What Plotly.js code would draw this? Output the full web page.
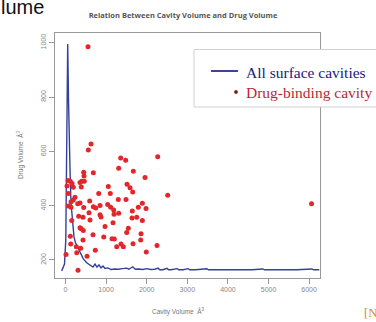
<!DOCTYPE html>
<html>
<head>
<meta charset="utf-8">
<script src="https://cdn.plot.ly/plotly-3.0.1.min.js"></script>
<style>html,body{margin:0;padding:0;background:#fff;}#chart{width:376px;height:322px;}</style>
</head>
<body>
<div id="chart"></div>
<script>
// Drug-binding cavity points (cavity volume, drug volume)
const cavityVolume = [554,6060,628,562,1359,1482,2271,1310,1670,448,685,456,1958,62,118,399,463,357,160,1515,37,192,389,1589,1054,818,1103,1655,69,2517,234,192,135,1300,1490,596,357,300,1892,69,135,448,685,744,850,1039,1113,1793,1983,1187,1645,579,850,1195,1310,325,431,153,603,874,1638,1753,1892,1170,973,1547,357,389,438,1507,677,118,941,1145,1202,1852,431,1860,128,1663,1367,1261,1424,2254,266,374,734,1990,276,12,530,308];
const drugVolume   = [985,407,627,605,576,567,580,538,527,523,521,509,504,493,490,490,490,485,482,479,472,468,469,466,471,445,445,450,445,438,431,421,414,423,423,417,410,407,409,399,394,393,396,391,401,404,394,394,390,384,380,374,367,368,372,361,357,345,347,358,355,357,345,337,323,317,319,315,309,301,293,287,285,278,277,274,274,297,259,260,259,249,249,253,249,243,236,229,227,220,214,162];
// All surface cavities curve
const curveX = [-94,-54,-25,7,25,44,54,74,94,111,135,172,209,246,291,357,438,530,603,677,726,776,825,874,923,973,1047,1121,1219,1300,1400,1507,1560,1655,1720,1800,1900,2000,2100,2200,2280,2320,2400,2500,2540,2600,2750,2790,2900,3020,3060,3200,3480,3520,3800,4200,4600,4860,4900,5300,5700,6070,6110,6250];
const curveY = [160,174,185,274,605,936,995,789,605,531,410,329,285,263,248,226,204,189,182,174,185,174,182,171,178,169,171,165,167,166,168,170,166,175,166,167,165,168,165,166,170,164,164,169,164,164,168,164,164,168,164,164,168,164,164,164,164,167,164,164,164,167,164,164];
const xTicks = [0,1000,2000,3000,4000,5000,6000];
const yTicks = [200,400,600,800,1000];
const legendLabels = ["All surface cavities","Drug-binding cavity"];

const W = 376, H = 322, L = 55, R = 320, T = 33, B = 278;
const px = v => (v - L) / (R - L);
const py = v => (B - v) / (B - T);

const traces = [
  {x: curveX, y: curveY, type: 'scatter', mode: 'lines',
   line: {color: '#34409c', width: 1.4}, hoverinfo: 'skip', showlegend: false},
  {x: cavityVolume, y: drugVolume, type: 'scatter', mode: 'markers',
   marker: {color: '#e2262b', size: 5}, showlegend: false}
];

const axisFont = {family: 'Liberation Sans, Arial, sans-serif', size: 7, color: '#888'};
const layout = {
  width: W, height: H,
  margin: {l: L, r: W - R, t: T, b: H - B, pad: 0},
  paper_bgcolor: '#fff', plot_bgcolor: '#fff',
  showlegend: false,
  title: {text: '<b>Relation Between Cavity Volume and Drug Volume</b>',
          font: {family: 'Open Sans, sans-serif', size: 7.5, color: '#555'},
          x: 183 / W, xanchor: 'center', y: 1 - 15 / H, yanchor: 'middle'},
  xaxis: {range: [-259, 6268], tickvals: xTicks, ticktext: xTicks.map(String),
          ticks: 'outside', ticklen: 5, tickcolor: '#999', tickfont: axisFont,
          showgrid: false, zeroline: false, showline: true, mirror: true,
          linecolor: '#999', linewidth: 1},
  yaxis: {range: [133.7, 1035.8], tickvals: yTicks, ticktext: yTicks.map(String),
          ticks: 'outside', ticklen: 5, tickcolor: '#999', tickfont: axisFont, tickangle: -90,
          showgrid: false, zeroline: false, showline: true, mirror: true,
          linecolor: '#999', linewidth: 1},
  shapes: [
    {type: 'rect', xref: 'paper', yref: 'paper', x0: px(194), x1: px(390), y0: py(107), y1: py(49.5),
     line: {color: '#d0d0d0', width: 1}, fillcolor: '#fff', layer: 'above'},
    {type: 'line', xref: 'paper', yref: 'paper', x0: px(211), x1: px(238), y0: py(71), y1: py(71),
     line: {color: '#14147a', width: 1.6}},
    {type: 'circle', xref: 'paper', yref: 'paper', x0: px(234.3), x1: px(237.7), y0: py(93.7), y1: py(90.3),
     line: {color: '#8c1a1f', width: 0.5}, fillcolor: '#8c1a1f'}
  ],
  annotations: [
    {text: legendLabels[0], xref: 'paper', yref: 'paper', x: px(243.5), y: py(72), xanchor: 'left', yanchor: 'middle',
     showarrow: false, font: {family: 'Liberation Serif, Times New Roman, serif', size: 15.5, color: '#1a1a80'}},
    {text: legendLabels[1], xref: 'paper', yref: 'paper', x: px(243.5), y: py(92.5), xanchor: 'left', yanchor: 'middle',
     showarrow: false, font: {family: 'Liberation Serif, Times New Roman, serif', size: 15.5, color: '#c01f36'}},
    {text: 'Cavity Volume  Å<sup>3</sup>', xref: 'paper', yref: 'paper', x: px(178), y: py(311), xanchor: 'center', yanchor: 'middle',
     showarrow: false, font: {family: 'Liberation Sans, Arial, sans-serif', size: 6.5, color: '#777'}},
    {text: 'Drug Volume  Å<sup>3</sup>', xref: 'paper', yref: 'paper', x: px(20), y: py(155), xanchor: 'center', yanchor: 'middle',
     textangle: -90, showarrow: false, font: {family: 'Liberation Sans, Arial, sans-serif', size: 6.5, color: '#777'}},
    {text: 'lume', xref: 'paper', yref: 'paper', x: px(-1), y: py(7), xanchor: 'left', yanchor: 'middle',
     showarrow: false, font: {family: 'Liberation Sans, Arial, sans-serif', size: 20, color: '#111'}},
    {text: '[N', xref: 'paper', yref: 'paper', x: px(362), y: py(312), xanchor: 'left', yanchor: 'middle',
     showarrow: false, font: {family: 'Liberation Serif, Times New Roman, serif', size: 13, color: '#e5871a'}}
  ]
};

Plotly.newPlot('chart', traces, layout, {displayModeBar: false, staticPlot: true});
</script>
</body>
</html>
